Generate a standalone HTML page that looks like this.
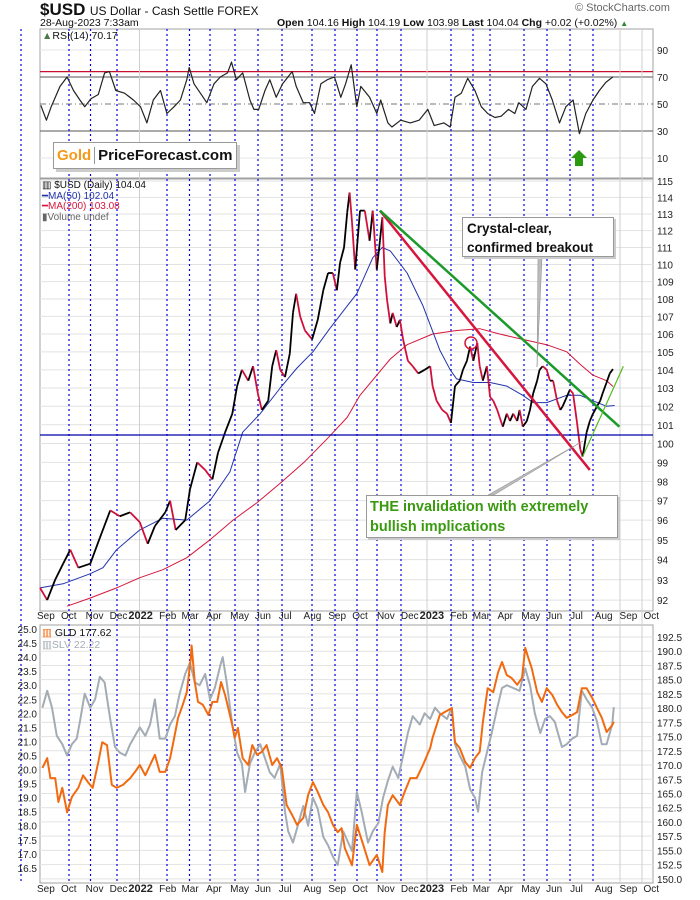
<!DOCTYPE html>
<html><head><meta charset="utf-8">
<style>
body{margin:0;background:#fff;}
svg{display:block;font-family:"Liberation Sans",sans-serif;}
</style></head>
<body>
<svg id="chart" width="700" height="900" viewBox="0 0 700 900">
<rect x="0" y="0" width="700" height="900" fill="#fff"/>
<g id="grid"></g>
<g id="vlines"></g>
<g id="series"></g>
<g id="annot"></g>
<g id="labels"></g>
</svg>
<script>
// ---- USD daily (day offset from 1-Sep-2021, close) ----
const usdDays=[0,9,19,29,38,48,63,75,88,100,113,125,135,144,157,163,170,182,188,197,207,216,223,232,241,247,253,261,267,273,278,286,291,296,301,307,313,317,321,326,332,341,348,355,361,367,372,376,381,385,388,391,395,401,407,413,417,422,426,429,432,435,439,442,447,451,455,461,467,474,482,489,492,497,504,510,515,520,526,530,535,539,543,548,551,555,560,564,568,573,576,580,585,589,593,598,601,605,610,614,618,623,626,630,635,639,643,648,652,655,660,664,668,673,677,680,685,689,693,698,702,705,710,714,718];
const usdValues=[92.6,92.0,93.0,93.8,94.5,93.6,93.8,95.1,96.5,96.2,96.4,95.9,94.8,95.7,96.4,97.0,95.5,96.0,97.6,99.0,98.6,98.1,99.5,100.6,101.6,103.1,104.0,103.4,104.2,102.7,101.8,102.3,104.2,105.1,104.0,103.6,104.9,107.2,108.3,107.0,106.2,105.7,106.8,108.5,109.5,109.5,108.5,110.1,111.0,113.1,114.3,112.5,109.7,113.2,113.2,111.4,113.2,109.7,111.4,112.8,109.3,107.9,106.6,107.2,106.4,106.8,105.7,104.5,104.2,103.8,104.0,104.2,103.1,102.3,101.8,101.6,101.1,103.1,103.4,104.0,104.5,105.3,104.5,105.5,104.2,103.4,104.2,102.5,102.3,101.8,101.4,100.9,101.6,101.2,101.6,101.2,101.8,100.9,101.2,101.8,102.7,103.4,104.0,104.2,104.0,103.4,103.4,102.3,101.8,102.0,102.5,102.9,102.7,101.1,99.7,99.3,100.6,101.2,101.6,102.0,102.3,102.7,103.3,103.8,104.04];
const ma50Days=[0,29,63,79,96,125,154,184,213,238,254,276,301,322,342,363,385,397,417,429,439,460,480,501,514,522,543,564,585,605,618,635,660,677,693,710,720];
const ma50Values=[92.6,92.8,93.3,93.6,94.5,95.5,96.1,96.0,97.0,98.5,100.6,101.6,103.0,104.1,105.0,106.3,107.6,108.3,110.4,111.0,110.8,109.5,107.6,105.1,104.0,103.5,103.3,103.3,103.1,102.6,102.2,102.2,102.6,102.6,102.3,102.0,102.04];
const ma200Days=[34,63,96,125,154,184,213,242,272,301,331,361,385,401,439,460,492,522,551,576,605,635,660,677,693,710,718];
const ma200Values=[91.7,92.1,92.6,93.1,93.5,94.1,95.0,96.0,96.9,97.9,99.0,100.3,101.4,102.6,104.6,105.4,106.0,106.2,106.3,106.0,105.7,105.4,105.0,104.3,103.7,103.4,103.08];
// ---- RSI(14) ----
const rsiDays=[1,8,14,25,34,42,50,56,64,73,81,87,95,106,117,126,134,142,151,159,168,176,184,187,193,201,209,218,226,235,240,246,254,263,268,274,282,288,296,304,316,321,330,338,344,352,360,369,377,383,390,397,402,413,422,427,436,441,452,464,475,486,494,506,514,520,528,536,545,553,561,570,578,587,595,600,609,617,626,634,642,651,659,668,676,684,693,701,709,718];
const rsiValues=[49,38,48,63,70,60,53,48,54,57,73,74,60,58,53,48,36,53,60,43,48,53,68,77,65,58,51,65,70,73,81,68,73,53,46,46,60,68,55,65,74,63,51,51,43,65,68,70,55,65,79,48,63,55,43,53,36,33,38,36,38,46,34,36,33,55,58,69,60,48,43,40,41,46,43,51,46,63,69,65,53,36,48,53,28,43,53,60,66,70.17];
const rsiTicks=[90,70,50,30,10];
// ---- GLD / SLV ----
const gldDays=[3,9,13,19,23,28,34,40,48,54,60,66,73,78,84,90,96,104,113,119,125,132,138,144,150,157,163,167,173,179,184,189,190,194,198,204,211,216,222,227,232,236,241,244,248,254,261,266,272,278,284,291,297,303,309,316,322,330,336,342,348,355,361,367,373,378,382,391,397,405,413,422,429,432,436,442,451,457,464,472,480,489,492,497,501,507,516,520,526,533,539,545,551,555,561,568,574,579,585,591,598,604,608,612,616,623,629,635,642,648,654,660,667,673,679,685,692,698,704,710,717,719];
const gldValues=[169.5,171.2,167.7,167.7,163.5,166,161.7,164.4,166,168.2,167,166,170.5,174,173.5,166.5,166,166.5,167.7,168.8,170,168.2,170,171.8,168.8,168.8,171.2,174,178.3,180.6,182.8,188.8,191,184.6,181.1,180.6,178.8,181.1,181.1,184.6,182.3,180,177,174.8,176.5,171.2,170,173.5,171.8,172.3,173.5,170,171.2,169.5,163,161.2,159.5,160.7,164.7,167,165.3,163,161.7,159.5,158.2,158.9,155.4,152.4,159.5,156,152.4,154.2,151.2,158.2,163,164.7,163,165.3,167.7,167.7,170,173,174.8,177,178.8,179.3,180,174,173,170.5,169.5,171.2,172.3,177.6,183.5,182.8,186.3,188.1,185.8,185.3,184.1,185.3,190.6,188.8,187.1,182.8,181.1,183.5,182.3,180.6,179.3,178.3,178.8,179.3,183.5,183.5,181.8,180,178.3,175.8,177,177.62];
const slvDays=[3,9,15,21,28,34,40,46,50,56,63,69,75,81,88,94,100,107,113,119,125,132,138,144,150,157,163,169,175,182,188,194,200,207,213,219,226,229,234,241,247,253,257,263,269,276,282,288,294,301,307,311,317,323,330,336,342,348,355,361,367,373,380,391,397,403,411,417,424,430,436,442,449,455,461,467,476,482,489,495,501,510,516,520,526,533,539,545,549,554,560,566,573,579,585,593,601,608,614,620,627,633,639,645,654,660,667,673,679,685,692,698,704,710,717,719];
const slvValues=[22.2,22.8,22.2,21.2,20.9,20.5,20.9,21.1,21.7,22.7,22.2,22.5,23.3,23.1,21.8,20.8,20.6,20.5,20.9,21.2,21.5,21.2,21.6,22.5,21.1,21.1,21.6,21.9,22.7,23.4,23.8,23.1,23.0,23.4,22.5,22.9,23.7,24.0,23.1,21.6,20.6,20.2,19.2,20.2,20.6,20.9,20.4,19.9,19.7,20.2,18.5,17.8,17.4,18.0,18.7,18.0,19.0,18.6,17.6,17.3,16.9,16.6,17.8,17.1,19.2,18.5,17.4,17.8,18.1,19.0,19.6,20.1,19.7,20.5,21.3,21.9,21.6,22.0,21.8,22.2,22.0,21.8,22.2,20.9,20.5,20.1,19.3,19.0,18.5,19.9,20.6,21.3,22.2,22.9,23.0,22.9,22.8,23.6,23.0,22.0,21.3,21.8,21.9,21.7,20.8,20.9,21.1,21.2,22.8,22.5,22.2,21.7,20.9,20.9,21.6,22.22];
const usdTicks=[115,114,113,112,111,110,109,108,107,106,105,104,103,102,101,100,99,98,97,96,95,94,93,92];
const gldTicks=[192.5,190,187.5,185,182.5,180,177.5,175,172.5,170,167.5,165,162.5,160,157.5,155,152.5,150];
const slvTicks=[25.0,24.5,24.0,23.5,23.0,22.5,22.0,21.5,21.0,20.5,20.0,19.5,19.0,18.5,18.0,17.5,17.0,16.5];
const monthLabels=["Sep","Oct","Nov","Dec","2022","Feb","Mar","Apr","May","Jun","Jul","Aug","Sep","Oct","Nov","Dec","2023","Feb","Mar","Apr","May","Jun","Jul","Aug","Sep","Oct"];
const monthDays=[0,30,61,91,122,153,181,212,242,273,303,334,365,395,426,456,487,518,546,577,607,638,668,699,730,760];

const NS="http://www.w3.org/2000/svg";
const L=40,R=653;
const X=d=>L+d*0.798;
const yUSD=v=>181+1878*(Math.log(115)-Math.log(v));
const yRSI=v=>131-(v-30)*1.35;
const yGLD=v=>637+(192.5-v)*5.69;
const ySLV=v=>629+(25-v)*28.1;
function mk(tag,attrs,parent,text){const e=document.createElementNS(NS,tag);for(const k in attrs)e.setAttribute(k,attrs[k]);if(text!==undefined)e.textContent=text;parent.appendChild(e);return e;}
const grid=document.getElementById('grid'),vl=document.getElementById('vlines'),ser=document.getElementById('series'),an=document.getElementById('annot'),lab=document.getElementById('labels');

const panels=[[29,178,'rsi-panel'],[179,611,'price-panel'],[625,883,'gld-panel']];
panels.forEach(p=>{const r=mk('rect',{x:L,y:p[0],width:R-L,height:p[1]-p[0],fill:'none',stroke:'#a0a0a0','stroke-width':1},grid);

});
rsiTicks.forEach(t=>{const y=yRSI(t);
 if(t===70||t===30){mk('line',{x1:L,x2:R,y1:y,y2:y,stroke:'#777','stroke-width':1.2},grid);}
 else if(t===50){mk('line',{x1:L,x2:R,y1:y,y2:y,stroke:'#777','stroke-width':1,'stroke-dasharray':'6,3,1,3'},grid);}
 else mk('line',{x1:L,x2:R,y1:y,y2:y,stroke:'#e4e4e4'},grid);
 const t1=mk('text',{x:657,y:y+4,'font-size':10,fill:'#222'},lab,String(t));
 
 });
mk('line',{x1:L,x2:R,y1:yRSI(74),y2:yRSI(74),stroke:'#c8102e','stroke-width':1.2},grid);
usdTicks.forEach(t=>{const y=yUSD(t);mk('line',{x1:L,x2:R,y1:y,y2:y,stroke:'#e2e2e2'},grid);
 const t1=mk('text',{x:657,y:y+4,'font-size':10,fill:'#222'},lab,String(t));
 
 });
gldTicks.forEach(t=>{const y=yGLD(t);mk('line',{x1:L,x2:R,y1:y,y2:y,stroke:'#e2e2e2'},grid);
 const t1=mk('text',{x:657,y:y+4,'font-size':10,fill:'#222'},lab,t.toFixed(1));
 
 });
slvTicks.forEach(t=>{const y=ySLV(t);
 const t1=mk('text',{x:37,y:y+4,'font-size':10,fill:'#222','text-anchor':'end'},lab,t.toFixed(1));
 
 });
[139.5,427,620,642].forEach(x=>mk('line',{x1:x,x2:x,y1:29,y2:883,stroke:'#cfcfcf'},vl));
[21,69,90.5,117,167,189.5,210,235,258,282,312,335,357,377,401,451,473,490,524,547,570,593].forEach(x=>mk('line',{x1:x,x2:x,y1:29,y2:883,stroke:'#0000ee','stroke-width':1.2,'stroke-dasharray':'2,3'},vl));
monthLabels.forEach((m,i)=>{const yr=/^20/.test(m);const x=X(monthDays[i])-(yr?9:3);
 [619,892].forEach(y=>{const t=mk('text',{x:x,y:y,'font-size':yr?11:10,'font-weight':yr?'bold':'normal',fill:'#222'},lab,m);
 
 });});
mk('line',{x1:L,x2:R,y1:435,y2:435,stroke:'#0000aa','stroke-width':1.2},an);

function line(days,vals,yf,color,w,name){const pts=days.map((d,i)=>X(d).toFixed(1)+','+yf(vals[i]).toFixed(1)).join(' ');
 const p=mk('polyline',{points:pts,fill:'none',stroke:color,'stroke-width':w,'stroke-linejoin':'round'},ser);
 
 return p;}
line(slvDays,slvValues,ySLV,'#a3acb4',2,'slv-line');
line(gldDays,gldValues,yGLD,'#f26a0f',2,'gld-line');
line(rsiDays,rsiValues,yRSI,'#222',1.2,'rsi-line');
line(ma200Days,ma200Values,yUSD,'#d6163c',1,'ma200-line');
line(ma50Days,ma50Values,yUSD,'#2233aa',1,'ma50-line');
for(let i=1;i<usdDays.length;i++){const up=usdValues[i]>=usdValues[i-1];
 const s=mk('line',{x1:X(usdDays[i-1]),y1:yUSD(usdValues[i-1]),x2:X(usdDays[i]),y2:yUSD(usdValues[i]),stroke:up?'#000':'#d0103a','stroke-width':1.8},ser);
 
 }

function tl(d1,v1,d2,v2,c,w,name){const l=mk('line',{x1:X(d1),y1:yUSD(v1),x2:X(d2),y2:yUSD(v2),stroke:c,'stroke-width':w},an);
 
 }
tl(426,113.2,689,98.6,'#d6163c',2.5,'red-trendline');
tl(426,113.2,726,100.9,'#1a9a2a',2.5,'green-trendline');
tl(680,99.3,731,104.2,'#55bb22',1.2,'uptrend-line');
</script>
<div style="position:absolute;left:0;top:0;width:700px;height:900px;pointer-events:none;font-family:'Liberation Sans',sans-serif;">
 <div style="position:absolute;left:40px;top:0px;font-size:16px;color:#111;white-space:nowrap;"><b style="font-size:17px">$USD</b> <span style="font-size:12px">US Dollar - Cash Settle FOREX</span></div>
 <div style="position:absolute;left:40px;top:17px;font-size:10.5px;color:#111;">28-Aug-2023 7:33am</div>
 <div style="position:absolute;left:575px;top:2px;font-size:11px;color:#666;">© StockCharts.com</div>
 <div style="position:absolute;left:277px;top:17px;font-size:10.5px;color:#111;white-space:nowrap;"><b>Open</b> 104.16 <b>High</b> 104.19 <b>Low</b> 103.98 <b>Last</b> 104.04 <b>Chg</b> +0.02 (+0.02%) <span style="color:#2a8a2a;font-size:8px">▲</span></div>
 <div style="position:absolute;left:42px;top:30px;font-size:10.5px;color:#111;"><span style="color:#4a7a4a">▲</span>RSI(14) 70.17</div>
 <div style="position:absolute;left:53px;top:142px;width:182px;height:25px;background:#fff;border:1px solid #999;box-shadow:3px 3px 0 #ccc;font-size:15px;font-weight:bold;line-height:25px;">
  <span style="color:#f39a1a;padding-left:3px;">Gold</span><span style="border-left:1px solid #999;margin-left:3px;padding-left:3px;color:#111;">PriceForecast.com</span></div>
 <div style="position:absolute;left:571px;top:150px;width:0;height:0;border-left:8px solid transparent;border-right:8px solid transparent;border-bottom:8px solid #2a9a10;"></div>
 <div style="position:absolute;left:575px;top:158px;width:8px;height:8px;background:#2a9a10;"></div>
 <div style="position:absolute;left:42px;top:181px;font-size:10px;line-height:10.5px;">
  <div style="color:#111">▥ $USD (Daily) 104.04</div><div style="color:#2233aa">━MA(50) 102.04</div><div style="color:#d6163c">━MA(200) 103.08</div><div style="color:#666">▮Volume undef</div></div>
 <div style="position:absolute;left:42px;top:627px;font-size:10.5px;line-height:12px;">
  <div style="color:#111"><span style="color:#f26a0f">▥</span> GLD 177.62</div><div style="color:#a3acb4">▥SLV 22.22</div></div>
 <svg width="700" height="900" style="position:absolute;left:0;top:0">
  <circle cx="471" cy="343" r="6" fill="none" stroke="#d6163c" stroke-width="1.5"/>
  <polygon points="538,258 542,258 537,367" fill="#bbb" stroke="#888" stroke-width="0.5"/>
  <polygon points="488,495 494,495 583,441" fill="#bbb" stroke="#888" stroke-width="0.5"/>
 </svg>
 <div style="position:absolute;left:462px;top:217px;width:152px;height:40px;background:#fff;border:1px solid #999;box-shadow:2px 2px 0 #ccc;font-size:13.5px;font-weight:bold;color:#111;line-height:19px;padding:1px 0 0 4px;box-sizing:border-box;">Crystal-clear,<br>confirmed breakout</div>
 <div style="position:absolute;left:366px;top:495px;width:252px;height:43px;background:#fff;border:1px solid #999;box-shadow:2px 2px 0 #ccc;font-size:14.5px;font-weight:bold;color:#3a9a10;line-height:20px;padding:1px 0 0 3px;box-sizing:border-box;">THE invalidation with extremely<br>bullish implications</div>
</div>
</body></html>
